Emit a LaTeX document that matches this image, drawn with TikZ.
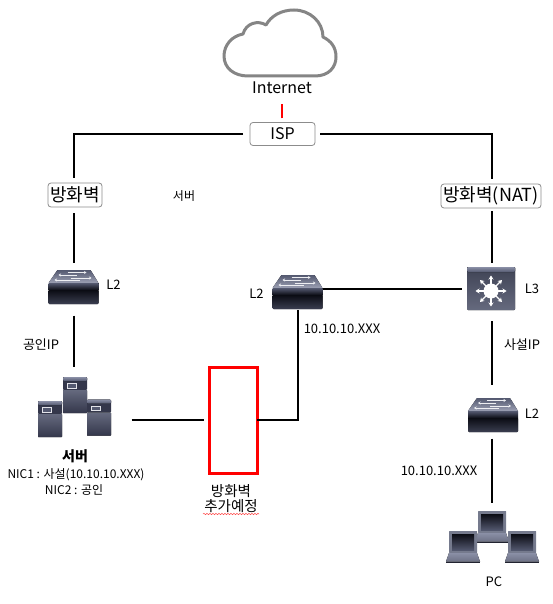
\documentclass[tikz,border=0pt]{standalone}
\usepackage{fontspec}
\setmainfont{Noto Sans CJK KR}
\usetikzlibrary{positioning,arrows.meta,calc,decorations.pathmorphing}
\definecolor{iconTop}{HTML}{8A8FA6}
\definecolor{iconMid}{HTML}{545970}
\definecolor{iconBand}{HTML}{34374B}
\definecolor{iconDark}{HTML}{0B0C14}
\definecolor{boxGray}{HTML}{8C8C8C}
\definecolor{cloudGray}{HTML}{858585}

\tikzset{
  switchicon/.pic={
    \fill[top color=iconMid, bottom color=iconTop!85, rounded corners=0.5pt]
      (-16,-17) -- (17,-17) -- (25,-4) -- (-25,-4) -- cycle;
    \fill[top color=iconMid, bottom color=iconDark]
      (-25,-4) rectangle (25,3);
    \fill[top color=iconDark, bottom color=iconMid!65!iconDark, rounded corners=1pt]
      (-25,3) rectangle (25,17);
    \draw[white!85!iconTop, line width=0.8pt, -{Stealth[length=2.5pt,width=3pt]}]
      (-6,-14.5) -- (13,-14.5);
    \draw[white!85!iconTop, line width=0.8pt, -{Stealth[length=2.5pt,width=3pt]}]
      (3,-12) -- (-15,-12);
    \draw[white!85!iconTop, line width=0.8pt, -{Stealth[length=2.5pt,width=3pt]}]
      (-3,-9) -- (18,-9);
    \draw[white!85!iconTop, line width=0.8pt, -{Stealth[length=2.5pt,width=3pt]}]
      (6,-7) -- (-19,-7);
  },
  routericon/.pic={
    \fill[top color=iconMid!75!black, middle color=iconDark!70!iconBand, bottom color=iconMid!90,
      rounded corners=1pt] (-24,-21.5) rectangle (24,21.5);
    \fill[top color=iconTop, bottom color=iconMid, rounded corners=1pt]
      (-24,-21.5) rectangle (24,-16.5);
    \fill[white] (0,2.5) circle (7.5);
    \foreach \ang in {0,45,...,315} {
      \draw[white, line width=1.3pt, -{Stealth[length=4pt,width=5pt]}]
        ($(0,2.5)+(\ang:7)$) -- ($(0,2.5)+(\ang:15.5)$);
    }
  },
  servericon/.pic={
    \fill[iconBand, rounded corners=1pt] (-12,-18) rectangle (12,-5);
    \fill[top color=iconTop, bottom color=iconMid, rounded corners=1pt]
      (-12,-18) rectangle (12,-14);
    \fill[top color=iconMid!90, middle color=iconDark, bottom color=iconBand, rounded corners=0.5pt]
      (-12,-5) rectangle (12,18);
    \draw[white!75!iconTop, line width=0.7pt, fill=iconMid] (-8,-11.5) rectangle (1,-7);
  },
  laptopicon/.pic={
    \fill[iconTop!85!black, rounded corners=0.5pt] (-14,-16) rectangle (14,6);
    \fill[top color=iconDark, bottom color=iconMid] (-11,-13) rectangle (11,3.5);
    \fill[top color=iconTop, bottom color=iconMid!85] (-14,6) -- (14,6) -- (17,14.5) -- (-17,14.5) -- cycle;
    \fill[iconDark!70!iconMid] (-17,14.5) rectangle (17,16);
  },
  link/.style={draw=black, line width=2pt},
  iconbox/.style={inner sep=0pt, outer sep=0pt},
  lanbox/.style={draw=boxGray, line width=0.8pt, rounded corners=3pt, fill=white,
    inner sep=0pt, outer sep=0pt, font=\fontsize{18}{18}\selectfont},
  lbl/.style={inner sep=0pt, font=\fontsize{13}{15}\selectfont, align=center},
  smalllbl/.style={lbl, font=\fontsize{12}{14}\selectfont}
}

\begin{document}
\begin{tikzpicture}[x=1pt, y=-1pt]
\path[use as bounding box, fill=white] (0,0) rectangle (552,604);

% Cloud and provider
\draw[cloudGray, line width=3pt, line join=round] (248,76) -- (315,76)
  .. controls (329,76) and (336,67) .. (336,57)
  .. controls (336,47) and (331,41) .. (323,37)
  .. controls (323,22) and (310,10) .. (294,10)
  .. controls (281,10) and (271,16) .. (266,25)
  .. controls (258,20) and (246,23) .. (243,34)
  .. controls (232,36) and (224,45) .. (224,56)
  .. controls (224,68) and (234,76) .. (248,76) -- cycle;
\node[iconbox, minimum width=113pt, minimum height=68pt] (cloud) at (281,43) {};
\node[lbl, font=\fontsize{16}{16}\selectfont] (inet) at (282,88) {Internet};
\node[lanbox, minimum width=65pt, minimum height=23pt, font=\fontsize{16}{16}\selectfont]
  (isp) at (282.5,134) {ISP};

% Firewalls
\node[lanbox, minimum width=54pt, minimum height=24pt] (fw1) at (75,195) {방화벽};
\node[lanbox, minimum width=100pt, minimum height=24pt] (fw2) at (491,196) {방화벽(NAT)};
\node[smalllbl] (srvnote) at (184,196) {서버};

% Switches, servers, PCs
\node[iconbox, minimum width=50pt, minimum height=35pt] (sw1) at (73.5,287) {};
\path (73.5,287) pic {switchicon};
\node[iconbox, minimum width=50pt, minimum height=35pt] (sw2) at (297.5,292) {};
\path (297.5,292) pic {switchicon};
\node[iconbox, minimum width=48pt, minimum height=43pt] (l3) at (491.5,288.5) {};
\path (491,288.5) pic {routericon};
\node[iconbox, minimum width=50pt, minimum height=35pt] (sw3) at (491.5,415) {};
\path (493,415) pic {switchicon};

\node[iconbox, minimum width=72pt, minimum height=60pt] (srv) at (73.5,407) {};
\path (75,395) pic {servericon};
\path (50,419) pic {servericon};
\path (99,417.5) pic {servericon};

\node[iconbox, minimum width=93pt, minimum height=52pt] (pc) at (491.5,537) {};
\path (492,527) pic {laptopicon};
\path (463,547) pic {laptopicon};
\path (522,547) pic {laptopicon};

% Planned firewall
\node[draw=red, line width=3pt, outer sep=0pt, inner sep=0pt,
  minimum width=48pt, minimum height=106pt] (newfw) at (233,420) {};

% Links
\draw[red, line width=2pt] (inet.south |- isp.north) ++(0,-4) -- ++(0,-14);
\draw[link, shorten <=7pt, shorten >=5pt] (isp.west) -| (sw1.north |- fw1.north);
\draw[link, shorten <=5pt, shorten >=5pt] (isp.east) -| (l3.north |- fw2.north);
\draw[link, shorten <=6pt, shorten >=7pt] (sw1.north |- fw1.south) -- (sw1.north);
\draw[link, shorten <=11pt, shorten >=10pt] (sw1.south) -- (srv.north);
\draw[link, shorten <=22pt, shorten >=5pt] (srv.east |- newfw.west) -- (newfw.west);
\draw[link] (newfw.east) -| (sw2.south);
\draw[link, shorten >=6pt] (sw2.east |- l3.west) -- (l3.west);
\draw[link, shorten <=3pt, shorten >=4pt] (l3.north |- fw2.south) -- (l3.north);
\draw[link, shorten <=11pt, shorten >=13pt] (l3.south) -- (sw3.north);
\draw[link, shorten <=6pt, shorten >=8pt] (sw3.south) -- (pc.north);

% Labels
\node[lbl] (l2a) at (113.5,285) {L2};
\node[lbl] (l2b) at (256.5,294) {L2};
\node[lbl] (l3lbl) at (532,289) {L3};
\node[lbl] (l2c) at (532,414) {L2};
\node[lbl] (pubip) at (41,345) {공인IP};
\node[lbl] (privip) at (522,345) {사설IP};
\node[lbl] (nettop) at (342,329) {10.10.10.XXX};
\node[lbl] (netpc) at (439,471) {10.10.10.XXX};
\node[lbl, font=\fontsize{14}{16}\bfseries\selectfont] (srvname) at (75,456) {서버};
\node[smalllbl] (nic1) at (76,475) {NIC1 : 사설(10.10.10.XXX)};
\node[smalllbl] (nic2) at (74,490) {NIC2 : 공인};
\node[lbl, font=\fontsize{14.5}{15}\selectfont] (newlbl) at (231,498.5) {방화벽\\추가예정};
\node[lbl] (pclbl) at (494,582) {PC};
\draw[red!70!white, line width=0.5pt, decorate,
  decoration={snake, amplitude=0.7pt, segment length=3pt}] (203,514) -- (259,514);
\end{tikzpicture}
\end{document}
